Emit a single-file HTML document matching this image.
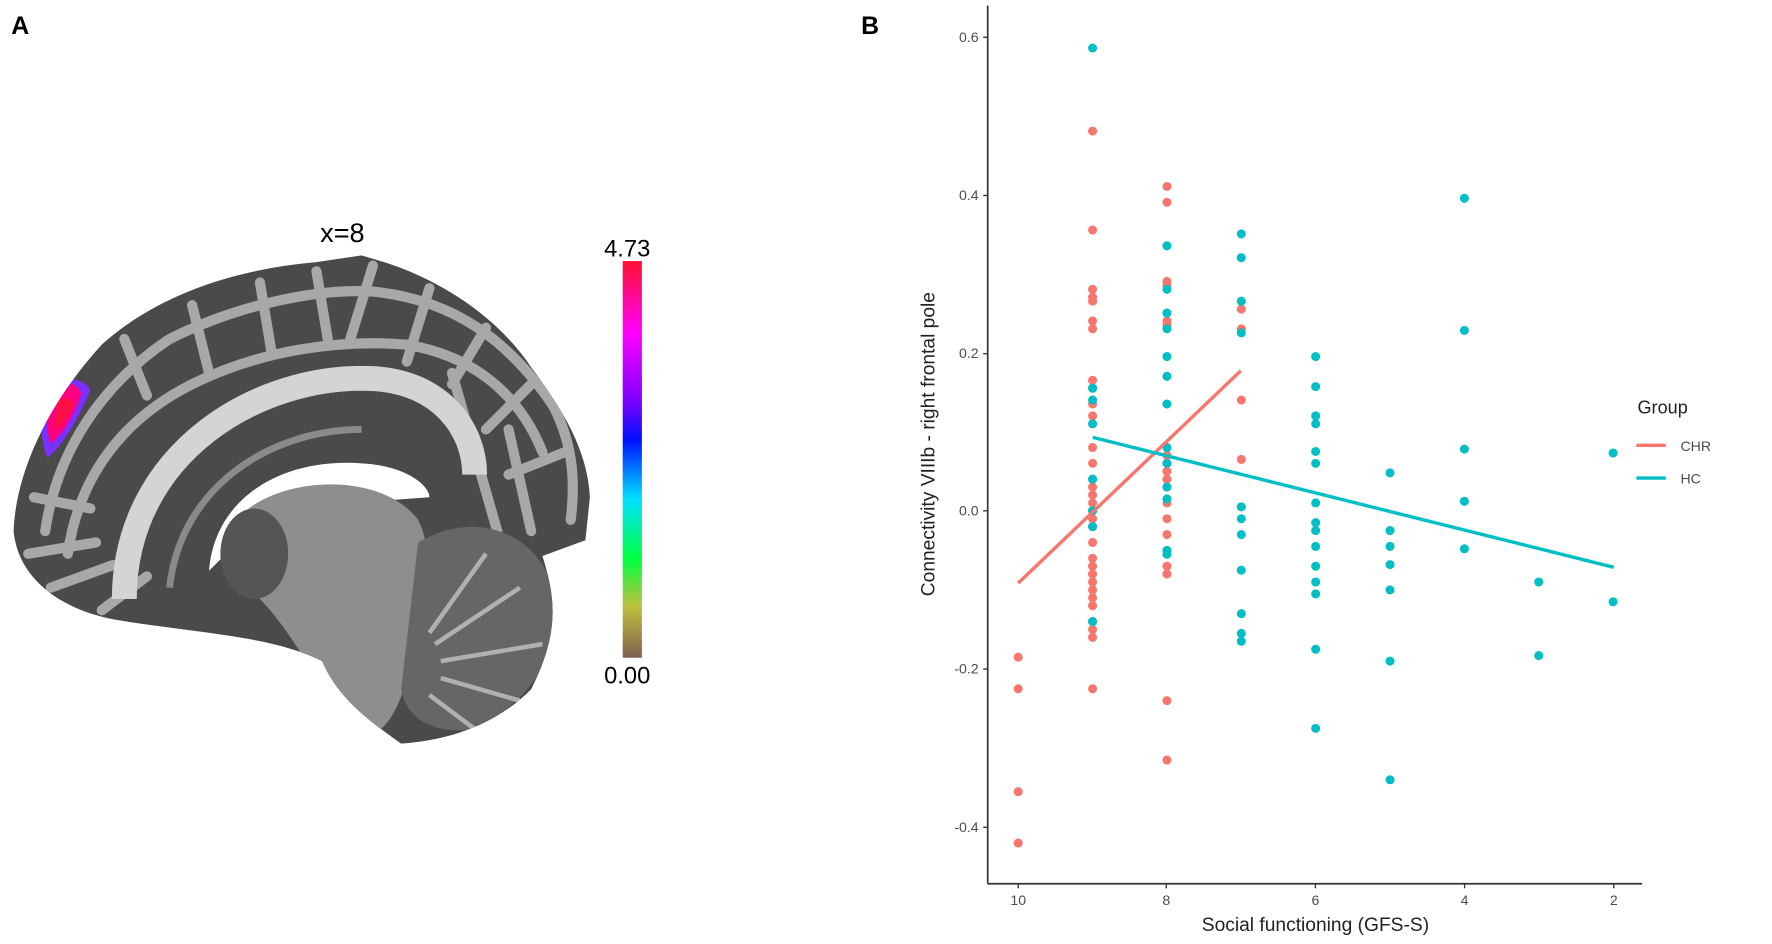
<!DOCTYPE html>
<html><head><meta charset="utf-8"><style>
html,body{margin:0;padding:0;background:#fff;width:1772px;height:944px;overflow:hidden;font-family:"Liberation Sans",sans-serif}
</style></head><body>
<svg width="1772" height="944" viewBox="0 0 1772 944" xmlns="http://www.w3.org/2000/svg" font-family="Liberation Sans, sans-serif">
<defs>
<linearGradient id="cb" x1="0" y1="0" x2="0" y2="1">
<stop offset="0" stop-color="#ff1030"/><stop offset="0.18" stop-color="#ff00ff"/><stop offset="0.35" stop-color="#8000ff"/><stop offset="0.45" stop-color="#0010ff"/><stop offset="0.6" stop-color="#00e0ff"/><stop offset="0.75" stop-color="#00ff40"/><stop offset="0.87" stop-color="#c0c040"/><stop offset="1" stop-color="#806050"/>
</linearGradient>
<clipPath id="brain"><path d="M12,470 C14,420 40,360 90,305 C140,260 210,238 280,232 L320,226 L340,232 C390,248 440,280 470,325 C500,365 520,400 522,440 L518,478 L480,492 C492,530 495,560 470,610 C440,640 400,655 355,658 C330,640 300,620 285,585 C240,562 170,560 100,548 C50,538 16,510 12,470 Z"/></clipPath>
</defs>
<g transform="scale(1.1301)">
<text x="10" y="30" font-size="22" font-weight="bold">A</text>
<text x="762" y="30" font-size="22" font-weight="bold">B</text>
<g clip-path="url(#brain)">
<rect x="0" y="200" width="560" height="480" fill="#4a4a4a"/>
<g fill="none" stroke="#a8a8a8" stroke-width="9" stroke-linecap="round">
<path d="M40,470 C50,400 90,340 150,300 C210,270 280,255 330,258 C400,265 450,300 490,360 C505,390 510,420 505,460"/>
<path d="M60,490 C70,420 110,370 170,340 C230,310 300,300 360,305 C420,315 460,350 480,400"/>
<path d="M110,300 L130,350 M170,270 L185,330 M230,250 L240,310 M280,240 L290,300 M330,235 L310,300 M380,255 L360,320 M430,290 L400,340 M470,340 L430,380 M500,400 L450,420 M30,440 L80,450 M25,490 L85,480 M45,520 L100,500 M90,540 L130,510"/>
<path d="M400,330 L440,470 M450,380 L470,470"/>
</g>
<path d="M110,530 C110,400 230,330 330,335 C390,338 420,380 420,420" fill="none" stroke="#d4d4d4" stroke-width="22"/>
<path d="M150,520 C160,430 240,380 320,380" fill="none" stroke="#8a8a8a" stroke-width="6"/>
<path d="M185,505 C190,440 250,405 320,410 C360,412 380,430 380,440 L240,450 Z" fill="#ffffff"/>
<path d="M220,450 C260,420 340,420 370,460 C390,500 370,560 360,600 C350,640 330,660 310,650 C290,620 260,560 230,530 C210,500 205,470 220,450 Z" fill="#8e8e8e"/>
<ellipse cx="225" cy="490" rx="30" ry="40" fill="#555"/>
<path d="M370,480 C420,450 480,470 492,530 C495,580 470,620 420,645 C390,650 360,640 355,610 Z" fill="#666"/>
<g stroke="#b0b0b0" stroke-width="4" fill="none"><path d="M380,560 L430,490 M385,570 L460,520 M390,585 L480,570 M390,600 L460,620 M380,615 L420,645"/></g>
<path d="M40,345 C55,330 75,335 80,345 C70,370 55,395 42,405 C35,390 35,360 40,345 Z" fill="#7a30ff"/>
<path d="M45,345 C58,335 70,340 72,348 C65,370 55,385 45,392 C40,380 40,360 45,345 Z" fill="#ff0080"/>
<path d="M52,355 C60,350 65,352 64,360 C58,372 52,380 48,380 Z" fill="#ff1040"/>
</g>
<text x="303" y="214" font-size="24" text-anchor="middle">x=8</text>
<rect x="551" y="231" width="17" height="351" fill="url(#cb)"/>
<text x="555" y="227" font-size="21" text-anchor="middle">4.73</text>
<text x="555" y="605" font-size="21" text-anchor="middle">0.00</text>
<g stroke="#333" stroke-width="1.5"><line x1="874" y1="5" x2="874" y2="782"/><line x1="874" y1="782" x2="1453" y2="782"/></g>
<g stroke="#333" stroke-width="1.2">
<line x1="870" y1="33" x2="874" y2="33"/><line x1="870" y1="173" x2="874" y2="173"/><line x1="870" y1="313" x2="874" y2="313"/><line x1="870" y1="452" x2="874" y2="452"/><line x1="870" y1="592" x2="874" y2="592"/><line x1="870" y1="732" x2="874" y2="732"/>
<line x1="901" y1="782" x2="901" y2="786"/><line x1="1032" y1="782" x2="1032" y2="786"/><line x1="1164" y1="782" x2="1164" y2="786"/><line x1="1296" y1="782" x2="1296" y2="786"/><line x1="1428" y1="782" x2="1428" y2="786"/>
</g>
<g font-size="12.5" fill="#4d4d4d" text-anchor="end">
<text x="866" y="37">0.6</text><text x="866" y="177">0.4</text><text x="866" y="317">0.2</text><text x="866" y="456">0.0</text><text x="866" y="596">-0.2</text><text x="866" y="736">-0.4</text>
</g>
<g font-size="12.5" fill="#4d4d4d" text-anchor="middle">
<text x="901" y="801">10</text><text x="1032" y="801">8</text><text x="1164" y="801">6</text><text x="1296" y="801">4</text><text x="1428" y="801">2</text>
</g>
<text x="1164" y="824" font-size="17" text-anchor="middle" fill="#222">Social functioning (GFS-S)</text>
<text transform="translate(827,393) rotate(-90)" font-size="17" text-anchor="middle" fill="#222">Connectivity VIIIb - right frontal pole</text>
<g fill="#f8766d" id="chr"></g>
<g fill="#00bfc4" id="hc"></g>
<line x1="901" y1="516" x2="1098" y2="328" stroke="#f8766d" stroke-width="3"/>
<line x1="967" y1="387" x2="1428" y2="502" stroke="#00bfc4" stroke-width="3"/>
<text x="1449" y="366" font-size="16" fill="#222">Group</text>
<line x1="1448" y1="394" x2="1474" y2="394" stroke="#f8766d" stroke-width="3"/>
<text x="1487" y="399" font-size="12.5" fill="#4d4d4d">CHR</text>
<line x1="1448" y1="423" x2="1474" y2="423" stroke="#00bfc4" stroke-width="3"/>
<text x="1487" y="428" font-size="12.5" fill="#4d4d4d">HC</text>
</g>
<script>
var X=function(v){return 901+(10-v)*65.8},Y=function(v){return 452-v*700};
var chr=[[10,[-.185,-.225,-.355,-.42]],[9,[.48,.355,.28,.27,.265,.24,.23,.165,.155,.135,.12,.11,.08,.06,.04,.03,.02,.01,0,-.01,-.02,-.04,-.06,-.07,-.08,-.09,-.1,-.11,-.12,-.14,-.15,-.16,-.225]],[8,[.41,.39,.29,.285,.24,.235,.07,.06,.05,.04,.03,.01,-.01,-.03,-.07,-.08,-.24,-.315]],[7,[.255,.23,.14,.065]]];
var hc=[[9,[.585,.155,.14,.11,.04,0,-.02,-.14]],[8,[.335,.28,.25,.23,.195,.17,.135,.08,.06,.03,.015,-.05,-.055]],[7,[.35,.32,.265,.225,.005,-.01,-.03,-.075,-.13,-.155,-.165]],[6,[.195,.157,.12,.11,.075,.06,.01,-.015,-.025,-.045,-.07,-.09,-.105,-.175,-.275]],[5,[.048,-.025,-.045,-.068,-.1,-.19,-.34]],[4,[.395,.228,.078,.012,-.048]],[3,[-.09,-.183]],[2,[.073,-.115]]];
function draw(id,d){var g=document.getElementById(id);d.forEach(function(c){c[1].forEach(function(v){var e=document.createElementNS("http://www.w3.org/2000/svg","circle");e.setAttribute("cx",X(c[0]));e.setAttribute("cy",Y(v));e.setAttribute("r",4);g.appendChild(e);});});}
draw("chr",chr);draw("hc",hc);
</script>
</svg>
</body></html>
